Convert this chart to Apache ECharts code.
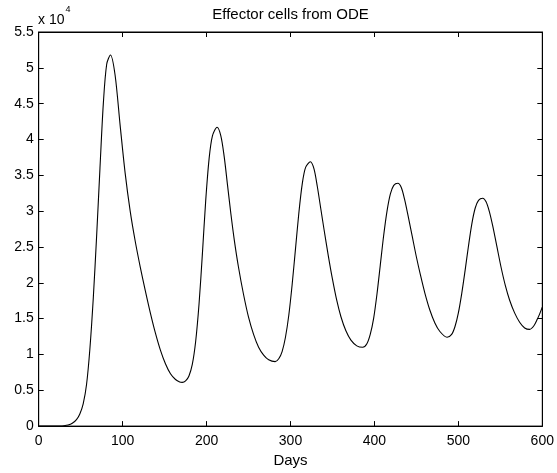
<!DOCTYPE html>
<html>
<head>
<meta charset="utf-8">
<script src="https://cdn.jsdelivr.net/npm/echarts@6/dist/echarts.min.js"></script>
<style>
  html, body { margin: 0; padding: 0; background: #fff; }
  #chart { width: 557px; height: 473px; }
</style>
</head>
<body>
<div id="chart"></div>
<script>
// Time (days) and effector cell count from the ODE solution
const days = [
  0, 10, 20, 25, 30, 35, 40, 45, 49, 53, 57, 61, 65, 69, 73, 77, 81, 85.5,
  91, 97, 103, 109, 115, 121, 127, 133, 139, 145, 151, 157, 163, 168, 171,
  175, 179, 183, 187, 191, 195, 199, 203, 207, 212.5,
  217, 221, 225, 229, 233, 238, 244, 250, 256, 262, 268, 274, 281.7,
  286, 290, 294, 298, 302, 306, 310, 314, 318, 323.7,
  328, 332, 336, 340, 345, 350, 355, 360, 366, 372, 379, 386,
  391, 395, 399, 403, 407, 411, 415, 419, 423, 428,
  432, 436, 440, 445, 450, 455, 460, 466, 472, 478, 486.5,
  492, 496, 500, 504, 508, 512, 516, 520, 524, 529,
  533, 537, 541, 546, 551, 556, 561, 567, 573, 579, 585,
  590, 594, 597, 600
];
const effector = [
  0, 0, 0, 10, 50, 150, 400, 900, 1700, 3100, 5800, 10800, 17800, 26500,
  36000, 45000, 50500, 51800,
  49000, 42000, 35300, 30000, 25800, 22200, 18900, 15800, 13000, 10600,
  8700, 7300, 6500, 6150, 6100,
  6300, 7000, 8600, 11800, 17000, 24000, 31500, 37300, 40500, 41700,
  40500, 37600, 33600, 29600, 26000, 22200, 18400, 15200, 12800, 11000,
  9900, 9250, 9000,
  9400, 10400, 12400, 15500, 19800, 24800, 29800, 33800, 36100, 36900,
  35900, 33400, 30400, 27400, 23800, 20500, 17600, 15300, 13300, 12000,
  11200, 11000,
  11500, 12800, 15000, 18400, 22500, 26600, 30000, 32400, 33600, 33900,
  33300, 31600, 29400, 26500, 23600, 21000, 18600, 16200, 14400, 13200,
  12400,
  12800, 13900, 15800, 18500, 21700, 25100, 28200, 30400, 31500, 31800,
  31300, 29900, 27900, 25000, 22100, 19600, 17600, 15800, 14500, 13700,
  13500,
  14000, 14900, 15700, 16600
];
const xTicks = { min: 0, max: 600, step: 100 };
const yTicks = { min: 0, max: 55000, step: 5000, scale: 10000 };

const chartTitle = 'Effector cells from ODE';
const xName = 'Days';
const yExponent = { base: 'x 10', power: '4' };

const chart = echarts.init(document.getElementById('chart'), null, { renderer: 'canvas' });

const FONT = '"Liberation Sans", Arial, Helvetica, sans-serif';
const GRID = { left: 38.7, right: 14.7, top: 32, bottom: 44 };
const plotCenterX = GRID.left + (557 - GRID.left - GRID.right) / 2;

const axisLine = () => ({ show: true, onZero: false, lineStyle: { color: '#000', width: 1 } });
const tickIn = () => ({ show: true, inside: true, length: 5, lineStyle: { color: '#000', width: 1 } });

chart.setOption({
  animation: false,
  backgroundColor: '#fff',
  title: {
    text: chartTitle,
    left: plotCenterX,
    textAlign: 'center',
    top: 7,
    padding: 0,
    textStyle: { fontFamily: FONT, fontSize: 15, fontWeight: 'normal', color: '#000' }
  },
  // axis scale factor shown above the y axis
  graphic: [
    {
      type: 'text', left: 38, top: 13,
      style: { text: yExponent.base, font: '14px ' + FONT, fill: '#000' }
    },
    {
      type: 'text', left: 65.5, top: 5.5,
      style: { text: yExponent.power, font: '9px ' + FONT, fill: '#000' }
    }
  ],
  // plot box outline
  grid: Object.assign({ containLabel: false, show: true, borderColor: '#000', borderWidth: 1, backgroundColor: 'transparent' }, GRID),
  xAxis: [
    {
      type: 'value', position: 'bottom', gridIndex: 0,
      min: xTicks.min, max: xTicks.max, interval: xTicks.step,
      name: xName, nameLocation: 'middle', nameGap: 25,
      nameTextStyle: { fontFamily: FONT, fontSize: 15, color: '#000' },
      axisLine: axisLine(), axisTick: tickIn(), splitLine: { show: false },
      axisLabel: { fontFamily: FONT, fontSize: 14, color: '#000', margin: 8 }
    },
    {
      type: 'value', position: 'top', gridIndex: 0,
      min: xTicks.min, max: xTicks.max, interval: xTicks.step,
      axisLine: axisLine(), axisTick: tickIn(), splitLine: { show: false },
      axisLabel: { show: false }
    }
  ],
  yAxis: [
    {
      type: 'value', position: 'left', gridIndex: 0,
      min: yTicks.min, max: yTicks.max, interval: yTicks.step,
      axisLine: axisLine(), axisTick: tickIn(), splitLine: { show: false },
      axisLabel: {
        fontFamily: FONT, fontSize: 14, color: '#000', margin: 5,
        formatter: v => String(Math.round(v / yTicks.scale * 10) / 10)
      }
    },
    {
      type: 'value', position: 'right', gridIndex: 0,
      min: yTicks.min, max: yTicks.max, interval: yTicks.step,
      axisLine: axisLine(), axisTick: tickIn(), splitLine: { show: false },
      axisLabel: { show: false }
    }
  ],
  series: [
    {
      type: 'line',
      xAxisIndex: 0, yAxisIndex: 0,
      data: days.map((d, i) => [d, effector[i]]),
      showSymbol: false,
      smooth: 0.3,
      lineStyle: { color: '#000', width: 1.1 },
      clip: true
    },
    {
      // empty series bound to the mirrored top/right axes so they are laid out
      type: 'line',
      xAxisIndex: 1, yAxisIndex: 1,
      data: [],
      showSymbol: false,
      silent: true
    }
  ]
});
</script>
</body>
</html>
